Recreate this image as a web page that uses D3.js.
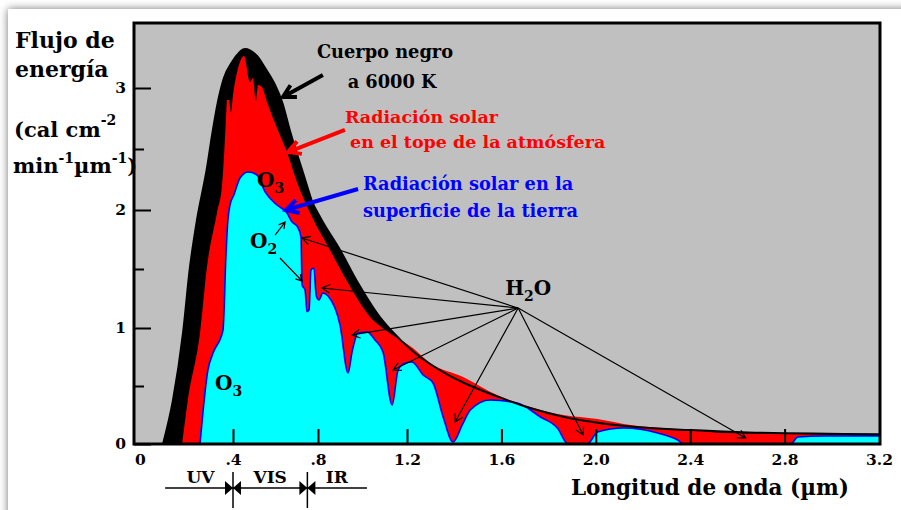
<!DOCTYPE html>
<html>
<head>
<meta charset="utf-8">
<script src="https://cdn.jsdelivr.net/npm/d3@7"></script>
<style>
    html, body { margin: 0; padding: 0; background: #fff; }
    svg { display: block; }
    text { font-family: "DejaVu Serif", serif; font-weight: bold; }
</style>
</head>
<body>
<svg id="chart" width="901" height="510"></svg>
<script>
// Spectra: wavelength in µm, flux in cal cm-2 min-1 µm-1

// Black body at 6000 K (outer black curve)
const blackbodyWl   = [0.099, 0.142, 0.185, 0.215, 0.245, 0.288, 0.310, 0.335, 0.361, 0.396, 0.456, 0.513, 0.551, 0.598, 0.631, 0.668, 0.701, 0.725, 0.748, 0.770, 0.809, 0.899, 0.980, 1.079, 1.124, 1.225, 1.298, 1.370, 1.438, 1.582, 1.722, 1.862, 2.147, 2.402, 2.644, 3.2];
const blackbodyFlux = [0, 0.379, 0.957, 1.517, 1.915, 2.344, 2.615, 2.885, 3.082, 3.213, 3.320, 3.262, 3.164, 3.025, 2.885, 2.65, 2.46, 2.33, 2.20, 2.08, 1.941, 1.661, 1.381, 1.09, 0.99, 0.80, 0.69, 0.60, 0.53, 0.41, 0.31, 0.235, 0.15, 0.12, 0.10, 0.085];

// Solar radiation at the top of the atmosphere (red)
const toaWl   = [0.181, 0.206, 0.258, 0.288, 0.331, 0.353, 0.370, 0.374, 0.383, 0.391, 0.400, 0.424, 0.452, 0.480, 0.494, 0.508, 0.518, 0.536, 0.560, 0.607, 0.654, 0.701, 0.772, 0.854, 0.935, 1.034, 1.115, 1.225, 1.298, 1.438, 1.582, 1.722, 1.862, 2.007, 2.147, 2.287, 2.402, 2.542, 2.856, 3.2];
const toaFlux = [0, 0.379, 0.957, 1.517, 1.975, 2.205, 2.754, 2.902, 2.902, 2.803, 2.943, 3.164, 3.262, 3.049, 3.082, 2.893, 3.025, 3.008, 2.885, 2.672, 2.475, 2.230, 1.941, 1.661, 1.381, 1.093, 0.966, 0.828, 0.698, 0.578, 0.422, 0.319, 0.250, 0.216, 0.164, 0.138, 0.121, 0.095, 0.086, 0.069];

// Solar radiation at the surface (cyan)
const surfaceWl   = [0.258, 0.292, 0.314, 0.357, 0.370, 0.378, 0.387, 0.404, 0.433, 0.471, 0.513, 0.551, 0.607, 0.654, 0.678, 0.701, 0.720, 0.725, 0.739, 0.748, 0.758, 0.767, 0.781, 0.791, 0.804, 0.822, 0.845, 0.899, 0.935, 0.953, 0.980, 1.020, 1.056, 1.092, 1.133, 1.160, 1.191, 1.221, 1.268, 1.310, 1.353, 1.395, 1.434, 1.468, 1.552, 1.667, 1.765, 1.837, 1.883, 1.964, 2.007, 2.118, 2.262, 2.347, 2.372, 2.826, 2.856, 2.967, 3.2];
const surfaceFlux = [0, 0.638, 0.784, 0.983, 1.636, 1.915, 2.041, 2.123, 2.262, 2.311, 2.287, 2.148, 2.041, 1.975, 1.898, 1.864, 1.771, 1.364, 1.322, 1.138, 1.153, 1.492, 1.508, 1.280, 1.237, 1.297, 1.271, 1.025, 0.612, 0.793, 0.957, 0.966, 0.897, 0.793, 0.336, 0.638, 0.698, 0.707, 0.595, 0.526, 0.233, 0.017, 0.164, 0.293, 0.379, 0.353, 0.233, 0.138, 0, 0, 0.103, 0.138, 0.095, 0.034, 0, 0, 0.060, 0.069, 0.069];

// Axis ticks (the printed axis is not quite linear, so the scales are piecewise)
const xTickValues = [0, 0.4, 0.8, 1.2, 1.6, 2.0, 2.4, 2.8, 3.2];
const xTickLabels = ["0", ".4", ".8", "1.2", "1.6", "2.0", "2.4", "2.8", "3.2"];
const yMajorTicks = [0, 1, 2, 3];
const yMinorTicks = [0.5, 1.5, 2.5];

// Spectral bands under the axis
const bandEdges  = [0.4, 0.75];
const bandLabels = ["UV", "VIS", "IR"];
const bandLabelAt = [0.26, 0.575, 0.885];
const bandSpan = [0.108, 1.02];

// H2O absorption bands pointed at by arrows: [wavelength, flux]
const h2oOrigin = [1.671, 1.169];
const h2oTargets = [[0.725, 1.763], [0.818, 1.339], [0.953, 0.940], [1.137, 0.638], [1.404, 0.190], [1.947, 0.078], [2.635, 0.052]];

const svg = d3.select('#chart');
const plot = { left: 134, right: 880, top: 23, bottom: 444 };

const x = d3.scaleLinear()
    .domain([0, 0.4, 0.8, 1.2, 3.2])
    .range([140, 233, 318, 407, 879]);
const y = d3.scaleLinear()
    .domain([0, 1, 2, 3])
    .range([444, 328, 210, 88]);

// Card with a soft shadow
const defs = svg.append('defs');
defs.append('filter')
    .attr('id', 'shadow')
    .attr('x', '-5%').attr('y', '-5%').attr('width', '110%').attr('height', '110%')
    .append('feDropShadow')
    .attr('dx', 0).attr('dy', 0)
    .attr('stdDeviation', 4)
    .attr('flood-color', '#000')
    .attr('flood-opacity', 0.55);

svg.append('rect')
    .attr('x', 8).attr('y', 9)
    .attr('width', 905).attr('height', 520)
    .attr('fill', '#fff')
    .attr('filter', 'url(#shadow)');

defs.append('clipPath')
    .attr('id', 'plot-clip')
    .append('rect')
    .attr('x', plot.left).attr('y', plot.top)
    .attr('width', plot.right - plot.left)
    .attr('height', plot.bottom - plot.top);

svg.append('rect')
    .attr('x', plot.left).attr('y', plot.top)
    .attr('width', plot.right - plot.left)
    .attr('height', plot.bottom - plot.top)
    .attr('fill', '#c0c0c0');

const zip = (wl, flux) => wl.map((w, i) => [w, flux[i]]);

const area = d3.area()
    .x(d => x(d[0]))
    .y0(y(0))
    .y1(d => y(d[1]))
    .curve(d3.curveMonotoneX);

const line = d3.line()
    .x(d => x(d[0]))
    .y(d => y(d[1]))
    .curve(d3.curveMonotoneX);

const spectra = svg.append('g').attr('clip-path', 'url(#plot-clip)');

spectra.append('path')
    .datum(zip(blackbodyWl, blackbodyFlux))
    .attr('d', area)
    .attr('fill', '#000');

spectra.append('path')
    .datum(zip(toaWl, toaFlux))
    .attr('d', area)
    .attr('fill', '#ff0000');

spectra.append('path')
    .datum(zip(surfaceWl, surfaceFlux))
    .attr('d', area)
    .attr('fill', '#00ffff');

spectra.append('path')
    .datum(zip(surfaceWl, surfaceFlux))
    .attr('d', line)
    .attr('fill', 'none')
    .attr('stroke', '#0000ff')
    .attr('stroke-width', 1.6);

// the black body curve is drawn over the red where the two cross
spectra.append('path')
    .datum(zip(blackbodyWl, blackbodyFlux))
    .attr('d', line)
    .attr('fill', 'none')
    .attr('stroke', '#000')
    .attr('stroke-width', 2);

// Frame
svg.append('rect')
    .attr('x', plot.left).attr('y', plot.top)
    .attr('width', plot.right - plot.left)
    .attr('height', plot.bottom - plot.top)
    .attr('fill', 'none')
    .attr('stroke', '#000')
    .attr('stroke-width', 3);

// Y axis: inward ticks, long on integers, short on halves
const yAxisMajor = svg.append('g')
    .attr('transform', `translate(${plot.left},0)`)
    .call(d3.axisLeft(y).tickValues(yMajorTicks).tickSize(-17).tickPadding(8).tickFormat(d3.format('d')));
const yAxisMinor = svg.append('g')
    .attr('transform', `translate(${plot.left},0)`)
    .call(d3.axisLeft(y).tickValues(yMinorTicks).tickSize(-10).tickFormat(''));

// X axis: inward ticks between the ends, labels on all
const xAxisTicks = svg.append('g')
    .attr('transform', `translate(0,${plot.bottom})`)
    .call(d3.axisBottom(x).tickValues(xTickValues.slice(1, -1)).tickSize(-15).tickFormat(''));
const xAxisLabels = svg.append('g')
    .attr('transform', `translate(0,${plot.bottom})`)
    .call(d3.axisBottom(x).tickValues(xTickValues).tickSize(0).tickPadding(10)
        .tickFormat((d, i) => xTickLabels[i]));

[yAxisMajor, yAxisMinor, xAxisTicks, xAxisLabels].forEach(ax => {
    ax.select('.domain').remove();
    ax.selectAll('.tick line').attr('stroke', '#000').attr('stroke-width', 2);
    ax.selectAll('.tick text')
        .attr('fill', '#000')
        .attr('font-family', '"DejaVu Serif", serif')
        .attr('font-weight', 'bold')
        .attr('font-size', 15.5);
});

// Axis titles
const yTitle = svg.append('text')
    .attr('font-size', 22)
    .attr('fill', '#000');
yTitle.append('tspan').attr('x', 15).attr('y', 48).text('Flujo de');
yTitle.append('tspan').attr('x', 15).attr('y', 77).text('energía');

const units1 = svg.append('text').attr('x', 14).attr('y', 137).attr('font-size', 21);
units1.append('tspan').text('(cal cm');
units1.append('tspan').attr('dy', -12).attr('font-size', 14).text('-2');

const units2 = svg.append('text').attr('x', 13).attr('y', 173).attr('font-size', 21);
units2.append('tspan').text('min');
units2.append('tspan').attr('dy', -10).attr('font-size', 14).text('-1');
units2.append('tspan').attr('dy', 10).text('µm');
units2.append('tspan').attr('dy', -10).attr('font-size', 14).text('-1');
units2.append('tspan').attr('dy', 10).text(')');

svg.append('text')
    .attr('x', 571).attr('y', 495)
    .attr('font-size', 21.5)
    .text('Longitud de onda (µm)');

// UV / VIS / IR bracket
const bandY = 488;
const bands = svg.append('g');
bands.append('line')
    .attr('x1', x(bandSpan[0])).attr('x2', x(bandSpan[1]))
    .attr('y1', bandY).attr('y2', bandY)
    .attr('stroke', '#000').attr('stroke-width', 1.5);
bandEdges.forEach(e => {
    const ex = x(e);
    bands.append('line')
        .attr('x1', ex).attr('x2', ex)
        .attr('y1', 472).attr('y2', 508)
        .attr('stroke', '#000').attr('stroke-width', 1.5);
    bands.append('path')
        .attr('d', `M${ex},${bandY} L${ex - 8},${bandY - 7} L${ex - 8},${bandY + 7} Z M${ex},${bandY} L${ex + 8},${bandY - 7} L${ex + 8},${bandY + 7} Z`)
        .attr('fill', '#000');
});
bandLabels.forEach((label, i) => {
    bands.append('text')
        .attr('x', x(bandLabelAt[i])).attr('y', 483)
        .attr('text-anchor', 'middle')
        .attr('font-size', 17)
        .text(label);
});

// Arrows with open V heads
function arrow(g, from, to, color, width, head) {
    const x1 = x(from[0]), y1 = y(from[1]);
    const x2 = x(to[0]), y2 = y(to[1]);
    const a = Math.atan2(y2 - y1, x2 - x1);
    const spread = 0.5;
    const hx1 = x2 - head * Math.cos(a - spread), hy1 = y2 - head * Math.sin(a - spread);
    const hx2 = x2 - head * Math.cos(a + spread), hy2 = y2 - head * Math.sin(a + spread);
    g.append('path')
        .attr('d', `M${x1},${y1} L${x2},${y2} M${hx1},${hy1} L${x2},${y2} L${hx2},${hy2}`)
        .attr('fill', 'none')
        .attr('stroke', color)
        .attr('stroke-width', width)
        .attr('stroke-linecap', 'butt');
}

const notes = svg.append('g');

arrow(notes, [0.822, 3.107], [0.635, 2.926], '#000', 4, 14);
arrow(notes, [0.921, 2.656], [0.659, 2.475], '#ff0000', 4, 14);
arrow(notes, [0.980, 2.172], [0.649, 2.0], '#0000ff', 4, 14);

arrow(notes, [0.598, 1.788], [0.645, 1.898], '#000', 1.2, 7);
arrow(notes, [0.621, 1.593], [0.725, 1.398], '#000', 1.2, 7);

h2oTargets.forEach(t => arrow(notes, h2oOrigin, t, '#000', 1.2, 9));

function label(g, at, parts, color, size, anchor) {
    const t = g.append('text')
        .attr('x', x(at[0])).attr('y', y(at[1]))
        .attr('font-size', size)
        .attr('fill', color)
        .attr('text-anchor', anchor || 'start');
    parts.forEach(p => {
        if (p.sub) {
            t.append('tspan').attr('dy', 6).attr('font-size', size * 0.7).text(p.text);
        } else {
            t.append('tspan').attr('dy', p.after ? -6 : 0).text(p.text);
        }
    });
    return t;
}

label(notes, [1.101, 3.246], [{ text: 'Cuerpo negro' }], '#000', 17.8, 'middle');
label(notes, [1.133, 3.0], [{ text: 'a 6000 K' }], '#000', 17.8, 'middle');
label(notes, [0.921, 2.713], [{ text: 'Radiación solar' }], '#ff0000', 17.5);
label(notes, [0.944, 2.508], [{ text: 'en el tope de la atmósfera' }], '#ff0000', 17.5);
label(notes, [1.002, 2.164], [{ text: 'Radiación solar en la' }], '#0000ff', 17.8);
label(notes, [1.002, 1.941], [{ text: 'superficie de la tierra' }], '#0000ff', 17.8);

label(notes, [0.513, 2.189], [{ text: 'O' }, { text: '3', sub: true }], '#000', 20);
label(notes, [0.480, 1.678], [{ text: 'O' }, { text: '2', sub: true }], '#000', 20);
label(notes, [0.323, 0.466], [{ text: 'O' }, { text: '3', sub: true }], '#000', 20);
label(notes, [1.616, 1.280], [{ text: 'H' }, { text: '2', sub: true }, { text: 'O', after: true }], '#000', 20);
</script>
</body>
</html>
